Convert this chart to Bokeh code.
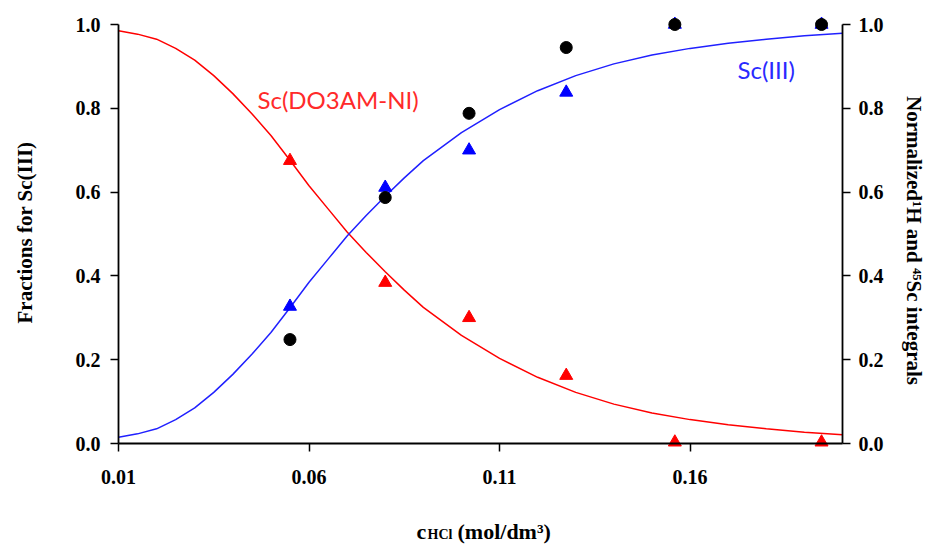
import math
from bokeh.plotting import figure
from bokeh.models import Range1d, LinearAxis, FixedTicker, PrintfTickFormatter, Label
from bokeh.embed import file_html
from bokeh.resources import INLINE

# ---- data ----
pt_x = [0.055, 0.080, 0.102, 0.1275, 0.156, 0.1945]
complex_pts = [0.675, 0.384, 0.300, 0.162, 0.003, 0.003]  # red triangles  Sc(DO3AM-NI)
free_pts = [0.327, 0.611, 0.700, 0.838, 1.0, 1.0]         # blue triangles Sc(III)
nmr_pts = [0.248, 0.587, 0.788, 0.945, 1.0, 1.0]          # black circles

curve_x = [0.010, 0.015, 0.020, 0.025, 0.030, 0.035, 0.040, 0.045, 0.050, 0.055,
           0.060, 0.065, 0.070, 0.075, 0.080, 0.085, 0.090, 0.100, 0.110, 0.120,
           0.130, 0.140, 0.150, 0.160, 0.170, 0.180, 0.190, 0.200]
complex_curve = [0.985, 0.977, 0.965, 0.943, 0.915, 0.878, 0.835, 0.787, 0.735, 0.676,
                 0.615, 0.560, 0.505, 0.456, 0.410, 0.366, 0.325, 0.258, 0.203, 0.158,
                 0.122, 0.094, 0.073, 0.057, 0.045, 0.035, 0.027, 0.021]
free_curve = [0.015, 0.023, 0.035, 0.057, 0.085, 0.122, 0.165, 0.213, 0.265, 0.324,
              0.385, 0.440, 0.495, 0.544, 0.590, 0.634, 0.675, 0.742, 0.797, 0.842,
              0.878, 0.906, 0.927, 0.943, 0.955, 0.965, 0.973, 0.979]

x_ticks = [0.01, 0.06, 0.11, 0.16]
y_ticks = [0.0, 0.2, 0.4, 0.6, 0.8, 1.0]
x_lo, x_hi = 0.01, 0.2
y_lo, y_hi = 0.0, 1.0

SERIF = "Liberation Serif"
TICK_SIZE = "20px"
LABEL_SIZE = "21px"

# ---- layout: the frame fills the canvas; axes are pinned at the data edges ----
W, H = 931, 544
ax_left_px, ax_right_px = 118, 842      # pixel columns of x = 0.01 and x = 0.2
ax_bottom_px, ax_top_px = 443, 24       # pixel rows of y = 0 and y = 1
sx = (ax_right_px - ax_left_px) / (x_hi - x_lo)
sy = (ax_bottom_px - ax_top_px) / (y_hi - y_lo)
xr = Range1d(x_lo - ax_left_px / sx, x_lo + (W - ax_left_px) / sx)
yr = Range1d(y_lo - (H - ax_bottom_px) / sy, y_lo + ax_bottom_px / sy)

def px_x(px):
    return x_lo + (px - ax_left_px) / sx

def px_y(py):
    return y_lo + (ax_bottom_px - py) / sy

p = figure(width=W, height=H, x_range=xr, y_range=yr,
           output_backend="svg", toolbar_location=None,
           min_border_left=0, min_border_right=0, min_border_top=0, min_border_bottom=0)
p.outline_line_color = None
p.grid.visible = False
p.extra_y_ranges = {"right": Range1d(yr.start, yr.end)}

def style_axis(ax):
    ax.axis_line_color = "black"
    ax.axis_line_width = 1.8
    ax.major_tick_line_color = "black"
    ax.major_tick_line_width = 1.5
    ax.major_tick_out = 8
    ax.major_tick_in = 0
    ax.minor_tick_line_color = None
    ax.major_label_text_font = SERIF
    ax.major_label_text_font_style = "bold"
    ax.major_label_text_font_size = TICK_SIZE
    ax.major_label_text_color = "black"

xa = p.xaxis[0]
style_axis(xa)
xa.ticker = FixedTicker(ticks=x_ticks)
xa.formatter = PrintfTickFormatter(format="%.2f")
xa.major_label_standoff = 18
xa.fixed_location = y_lo
xa.bounds = (x_lo, x_hi)

ya = p.yaxis[0]
style_axis(ya)
ya.ticker = FixedTicker(ticks=y_ticks)
ya.formatter = PrintfTickFormatter(format="%.1f")
ya.major_label_standoff = 10
ya.fixed_location = x_lo
ya.bounds = (y_lo, y_hi)

ra = LinearAxis(y_range_name="right")
style_axis(ra)
ra.ticker = FixedTicker(ticks=y_ticks)
ra.formatter = PrintfTickFormatter(format="%.1f")
ra.major_label_standoff = 8
ra.fixed_location = x_hi
ra.bounds = (y_lo, y_hi)
p.add_layout(ra, "right")

# curves
p.line(curve_x, complex_curve, line_color="#ff0000", line_width=1.5)
p.line(curve_x, free_curve, line_color="#2020ff", line_width=1.5)

# points
p.scatter(pt_x, complex_pts, marker="triangle", size=13, fill_color="#ff0000", line_color="#ff0000")
p.scatter(pt_x, free_pts, marker="triangle", size=13, fill_color="#0000ff", line_color="#0000ff")
p.scatter(pt_x, nmr_pts, marker="circle", size=12, fill_color="black", line_color="black")

# series labels
p.add_layout(Label(x=px_x(257), y=px_y(99), text="Sc(DO3AM-NI)", text_font="Lato", text_font_size="24px",
                   text_color="#ff2a2a", text_baseline="middle", text_align="left"))
p.add_layout(Label(x=px_x(737), y=px_y(69), text="Sc(III)", text_font="Lato", text_font_size="24px",
                   text_color="#2a2aff", text_baseline="middle", text_align="left"))

# axis titles
p.add_layout(Label(x=px_x(24), y=px_y(232), text="Fractions for Sc(III)", angle=math.pi / 2,
                   text_font=SERIF, text_font_style="bold", text_font_size=LABEL_SIZE,
                   text_color="black", text_align="center", text_baseline="middle"))
p.add_layout(Label(x=px_x(913), y=px_y(240), text="Normalized\u00b9H and \u2074\u2075Sc integrals",
                   angle=-math.pi / 2,
                   text_font=SERIF, text_font_style="bold", text_font_size=LABEL_SIZE,
                   text_color="black", text_align="center", text_baseline="middle"))

# x axis title: c_HCl (mol/dm3)
p.add_layout(Label(x=px_x(416), y=px_y(531), text="c", text_font=SERIF, text_font_style="bold",
                   text_font_size="22px", text_color="black",
                   text_baseline="alphabetic", text_align="left"))
p.add_layout(Label(x=px_x(427), y=px_y(534), text="HCl", text_font=SERIF, text_font_style="bold",
                   text_font_size="14px", text_color="black",
                   text_baseline="alphabetic", text_align="left"))
p.add_layout(Label(x=px_x(457), y=px_y(531), text="(mol/dm\u00b3)", text_font=SERIF, text_font_style="bold",
                   text_font_size="22px", text_color="black",
                   text_baseline="alphabetic", text_align="left"))

open("out.html", "w").write(file_html(p, INLINE))
